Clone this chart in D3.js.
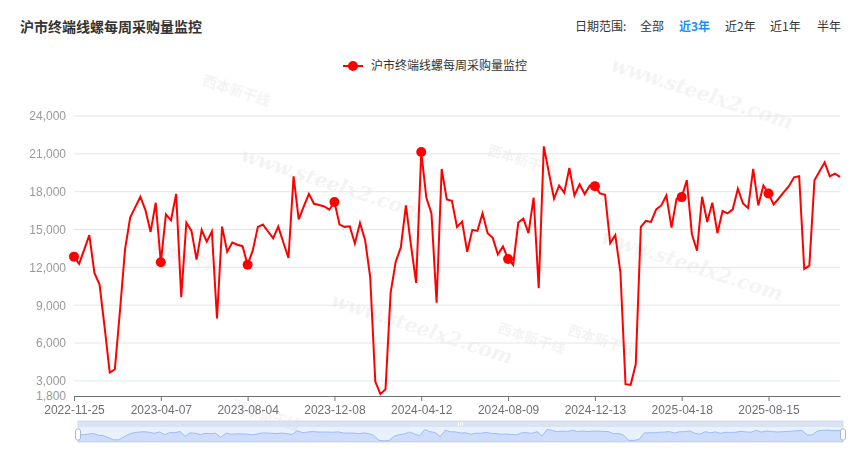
<!DOCTYPE html>
<html>
<head>
<meta charset="utf-8">
<script src="https://cdn.jsdelivr.net/npm/d3@7/dist/d3.min.js"></script>
<style>
  body { margin: 0; background: #fff; }
  svg { display: block; font-family: "Noto Sans CJK SC", "Microsoft YaHei", sans-serif; }
</style>
</head>
<body>
<svg id="chart" width="850" height="450"></svg>
<script>
// weekly dates (holiday weeks are missing in the source)
const dates = [
  '2022-11-25','2022-12-02','2022-12-09','2022-12-16','2022-12-23','2022-12-30','2023-01-06','2023-01-13','2023-01-20','2023-02-10',
  '2023-02-17','2023-02-24','2023-03-03','2023-03-10','2023-03-17','2023-03-24','2023-03-31','2023-04-07','2023-04-14','2023-04-21',
  '2023-04-28','2023-05-05','2023-05-12','2023-05-19','2023-05-26','2023-06-02','2023-06-09','2023-06-16','2023-06-23','2023-06-30',
  '2023-07-07','2023-07-14','2023-07-21','2023-07-28','2023-08-04','2023-08-11','2023-08-18','2023-08-25','2023-09-01','2023-09-08',
  '2023-09-15','2023-09-22','2023-09-29','2023-10-13','2023-10-20','2023-10-27','2023-11-03','2023-11-10','2023-11-17','2023-11-24',
  '2023-12-01','2023-12-08','2023-12-15','2023-12-22','2023-12-29','2024-01-05','2024-01-12','2024-01-19','2024-01-26','2024-02-02',
  '2024-02-09','2024-02-23','2024-03-01','2024-03-08','2024-03-15','2024-03-22','2024-03-29','2024-04-05','2024-04-12','2024-04-19',
  '2024-04-26','2024-05-03','2024-05-10','2024-05-17','2024-05-24','2024-05-31','2024-06-07','2024-06-14','2024-06-21','2024-06-28',
  '2024-07-05','2024-07-12','2024-07-19','2024-07-26','2024-08-02','2024-08-09','2024-08-16','2024-08-23','2024-08-30','2024-09-06',
  '2024-09-13','2024-09-20','2024-09-27','2024-10-11','2024-10-18','2024-10-25','2024-11-01','2024-11-08','2024-11-15','2024-11-22',
  '2024-11-29','2024-12-06','2024-12-13','2024-12-20','2024-12-27','2025-01-03','2025-01-10','2025-01-17','2025-01-24','2025-02-07',
  '2025-02-14','2025-02-21','2025-02-28','2025-03-07','2025-03-14','2025-03-21','2025-03-28','2025-04-04','2025-04-11','2025-04-18',
  '2025-04-25','2025-05-02','2025-05-09','2025-05-16','2025-05-23','2025-05-30','2025-06-06','2025-06-13','2025-06-20','2025-06-27',
  '2025-07-04','2025-07-11','2025-07-18','2025-07-25','2025-08-01','2025-08-08','2025-08-15','2025-08-22','2025-08-29','2025-09-05',
  '2025-09-12','2025-09-19','2025-09-26','2025-10-10','2025-10-17','2025-10-24','2025-10-31','2025-11-07','2025-11-14','2025-11-21',
  '2025-11-28'
];

const purchase = [
  12850,12270,13400,14550,11560,10640,7250,3660,3920,8540,
  13450,15940,16780,17600,16520,14810,17120,12400,16200,15730,
  17830,9640,15550,14890,12610,14970,14030,14840,7940,15230,
  13240,13970,13790,13680,12210,13320,15210,15390,14840,14310,
  15230,13970,12740,19220,15810,16830,17830,17040,16940,16830,
  16570,17180,15390,15210,15260,13890,15520,14180,11220,2950,
  1950,2340,9980,12450,13580,16910,13700,10770,21140,17520,
  16280,9200,19800,17390,17280,15210,15630,13240,14970,14890,
  16280,14710,14340,13030,13660,12660,12190,15550,15860,14710,
  17520,10350,21590,19490,17440,18490,17910,19880,17700,18590,
  17810,18490,18440,17860,17750,13920,14550,11610,2740,2690,
  4310,15210,15680,15600,16600,16910,17700,15150,17440,17570,
  18910,14630,13320,17600,15600,17120,14710,16470,16280,16600,
  18230,17070,16700,19800,16910,18490,17860,16990,17460,17960,
  18440,19140,19220,11870,12140,18910,19620,20330,19220,19430,
  19170
];

const yTicks = [1800, 3000, 6000, 9000, 12000, 15000, 18000, 21000, 24000];
const labelEvery = 17;
const seriesName = '沪市终端线螺每周采购量监控';
const titleText = '沪市终端线螺每周采购量监控';
const rangeLabel = '日期范围:';
const rangeOptions = ['全部', '近3年', '近2年', '近1年', '半年'];
const activeRange = '近3年';

const svg = d3.select('#chart');
const margin = {top: 116, right: 10, bottom: 54, left: 74};
const width = 850 - margin.left - margin.right;
const height = 450 - margin.top - margin.bottom;

// watermarks, very faint
const wm = svg.append('g').attr('class', 'watermark').attr('fill', '#e2e2e2').attr('opacity', 0.4);
[[330, 190], [420, 335], [690, 272], [700, 100]].forEach(p => {
  wm.append('text').attr('transform', `translate(${p[0]},${p[1]}) rotate(18)`)
    .attr('text-anchor', 'middle').style('font', 'italic bold 20px "DejaVu Serif", serif')
    .text('www.steelx2.com');
});
[[235, 95], [520, 165], [185, 262], [530, 343], [600, 345], [265, 420]].forEach(p => {
  wm.append('text').attr('transform', `translate(${p[0]},${p[1]}) rotate(18)`)
    .attr('text-anchor', 'middle').style('font-size', '14px').style('font-weight', 'bold')
    .text('西本新干线');
});

// title + date range switch
svg.append('text').attr('x', 20).attr('y', 32)
  .attr('fill', '#333').style('font-size', '14px').style('font-weight', 'bold')
  .text(titleText);

const rangeG = svg.append('g').style('font-size', '12px');
rangeG.append('text').attr('x', 575).attr('y', 31).attr('fill', '#333').text(rangeLabel);
const rangeX = [640, 679, 725, 770, 817];
rangeOptions.forEach((r, i) => {
  rangeG.append('text').attr('x', rangeX[i]).attr('y', 31)
    .attr('fill', r === activeRange ? '#1890ff' : '#333')
    .style('font-weight', r === activeRange ? 'bold' : 'normal')
    .text(r);
});

// legend
const legend = svg.append('g').attr('transform', 'translate(343,66)');
legend.append('line').attr('x1', 0).attr('x2', 20).attr('stroke', '#ff0000').attr('stroke-width', 2);
legend.append('circle').attr('cx', 10).attr('r', 5).attr('fill', '#ff0000');
legend.append('text').attr('x', 28).attr('dy', '0.35em').attr('fill', '#333')
  .style('font-size', '12px').text(seriesName);

const g = svg.append('g').attr('transform', `translate(${margin.left},${margin.top})`);

const x = d3.scalePoint().domain(dates).range([0, width]);
const y = d3.scaleLinear().domain([1800, 24000]).range([height, 0]);

// grid lines
g.append('g').selectAll('line')
  .data(yTicks.filter(t => t !== 1800)).enter()
  .append('line')
  .attr('x1', 0).attr('x2', width)
  .attr('y1', d => y(d)).attr('y2', d => y(d))
  .attr('stroke', '#E0E6F1');

// y axis
const yAxis = g.append('g')
  .call(d3.axisLeft(y).tickValues(yTicks).tickSize(0).tickPadding(8).tickFormat(d3.format(',')));
yAxis.select('.domain').remove();
yAxis.selectAll('text').attr('fill', '#999').style('font-size', '12px');

// x axis
const labelDates = dates.filter((d, i) => i % labelEvery === 0);
const xAxis = g.append('g').attr('transform', `translate(0,${height})`)
  .call(d3.axisBottom(x).tickValues(labelDates).tickSize(5).tickPadding(4).tickSizeOuter(0));
xAxis.select('.domain').attr('stroke', '#6E7079');
xAxis.selectAll('.tick line').attr('stroke', '#6E7079');
xAxis.selectAll('text').attr('fill', '#6E7079').style('font-size', '12px');

// series line
const line = d3.line().x((d, i) => x(dates[i])).y(d => y(d));
g.append('path').datum(purchase)
  .attr('d', line)
  .attr('fill', 'none')
  .attr('stroke', '#ff0000')
  .attr('stroke-width', 2);

// markers shown at the labelled categories
g.selectAll('.dot')
  .data(purchase.map((v, i) => ({v, i})).filter(d => d.i % labelEvery === 0))
  .enter().append('circle')
  .attr('class', 'dot')
  .attr('cx', d => x(dates[d.i]))
  .attr('cy', d => y(d.v))
  .attr('r', 5)
  .attr('fill', '#ff0000');

// data zoom slider (full range selected)
const sl = {x0: 78, x1: 843, top: 421, bar: 6, bottom: 442};
const slider = svg.append('g');
const sx = d3.scalePoint().domain(dates).range([sl.x0, sl.x1]);
const sy = d3.scaleLinear().domain([0, d3.max(purchase) * 1.1]).range([sl.bottom, sl.top + sl.bar + 1]);

slider.append('rect')
  .attr('x', sl.x0).attr('y', sl.top).attr('width', sl.x1 - sl.x0).attr('height', sl.bottom - sl.top)
  .attr('fill', 'none').attr('stroke', '#d2dbee');
slider.append('rect')
  .attr('x', sl.x0).attr('y', sl.top + sl.bar).attr('width', sl.x1 - sl.x0).attr('height', sl.bottom - sl.top - sl.bar)
  .attr('fill', '#87afee').attr('fill-opacity', 0.18);

const area = d3.area().x((d, i) => sx(dates[i])).y0(sl.bottom).y1(d => sy(d));
slider.append('path').datum(purchase).attr('d', area)
  .attr('fill', '#8fb0f7').attr('fill-opacity', 0.3);
slider.append('path').datum(purchase)
  .attr('d', d3.line().x((d, i) => sx(dates[i])).y(d => sy(d)))
  .attr('fill', 'none').attr('stroke', '#8fb0f7').attr('stroke-opacity', 0.8).attr('stroke-width', 1);

// move handle bar on top
slider.append('rect')
  .attr('x', sl.x0).attr('y', sl.top).attr('width', sl.x1 - sl.x0).attr('height', sl.bar)
  .attr('fill', '#d2dbee').attr('fill-opacity', 0.8);
[-2, 0, 2].forEach(dx => {
  slider.append('line')
    .attr('x1', (sl.x0 + sl.x1) / 2 + dx).attr('x2', (sl.x0 + sl.x1) / 2 + dx)
    .attr('y1', sl.top + 1.5).attr('y2', sl.top + sl.bar - 1.5)
    .attr('stroke', '#fff').attr('stroke-width', 1);
});

// side handles
[sl.x0, sl.x1].forEach(hx => {
  slider.append('rect')
    .attr('x', hx - 2.5).attr('y', sl.top + sl.bar + 2).attr('width', 5).attr('height', sl.bottom - sl.top - sl.bar - 4)
    .attr('rx', 2).attr('fill', '#fff').attr('stroke', '#acb8d1').attr('stroke-width', 1);
});
</script>
</body>
</html>
